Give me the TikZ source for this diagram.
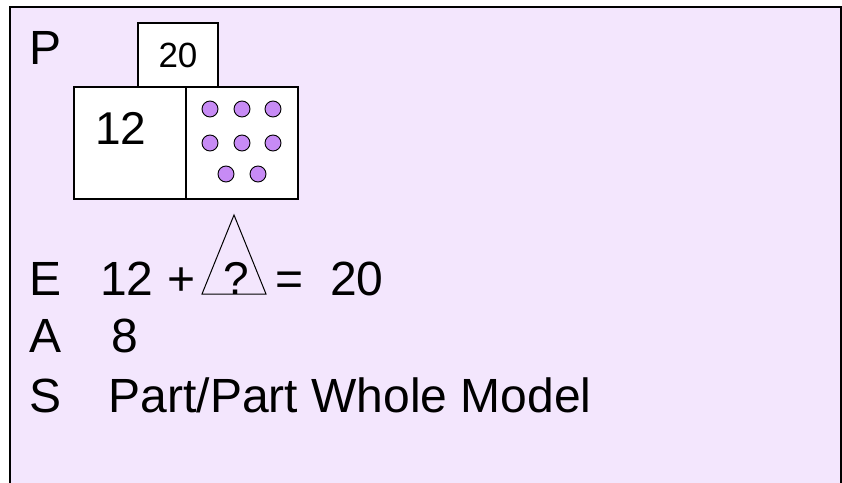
\documentclass[tikz,border=0pt]{standalone}
\usepackage{fontspec}
\setmainfont{Liberation Sans}
\usepackage{tikz}
\usetikzlibrary{positioning}
\definecolor{pesbg}{HTML}{F3E6FD}
\definecolor{pesdot}{HTML}{C78BF5}
\tikzset{
    txt/.style={inner sep=0pt,anchor=base west,font=\fontsize{48}{56}\selectfont},
    mid/.style={txt,anchor=base},
    bar/.style={draw,line width=1.3pt,fill=white,inner sep=0pt},
    counter/.style={draw,line width=0.9pt,fill=pesdot},
}

\begin{document}
\begin{tikzpicture}[x=1pt,y=-1pt]
    \useasboundingbox (0,0) rectangle (842,482);
    \clip (0,0) rectangle (842,482);
    % card
    \draw[line width=2pt,fill=pesbg] (10,7) rectangle (841,495);

    % P : bar model
    \node[txt] (lp) at (29,64) {P};
    \node[bar,minimum width=80pt,minimum height=64pt,font=\fontsize{35}{40}\selectfont] (whole) at (178,55) {20};
    \node[bar,minimum width=112pt,minimum height=112pt] (partA) at (130,143) {};
    \node[bar,minimum width=112pt,minimum height=112pt] (partB) at (242,143) {};
    \node[mid,font=\fontsize{46}{52}\selectfont] (twelve) at (121,144) {12};
    \foreach \x/\y in {210/109,242/109,273/109,210/143,242/143,273/143,226/174,258/174}
        \draw[counter] (\x,\y) circle (8);

    % E : equation
    \node[txt] (le) at (29,295) {E};
    \node[txt] (ea) at (100,295) {12};
    \node[mid] (plus) at (182,295) {+};
    \draw[line width=1pt] (202,294) -- (234,215) -- (266,294) -- cycle;
    \node[mid,font=\fontsize{46}{52}\selectfont] (unknown) at (236,294) {?};
    \node[mid] (eq) at (290,295) {=};
    \node[mid] (eb) at (357,295) {20};

    % A, S
    \node[txt] (la) at (29,352) {A};
    \node[txt] (ans) at (111,352) {8};
    \node[txt] (ls) at (29,412) {S};
    \node[txt] (strat) at (108.5,412) {Part/Part Whole Model};
\end{tikzpicture}
\end{document}
